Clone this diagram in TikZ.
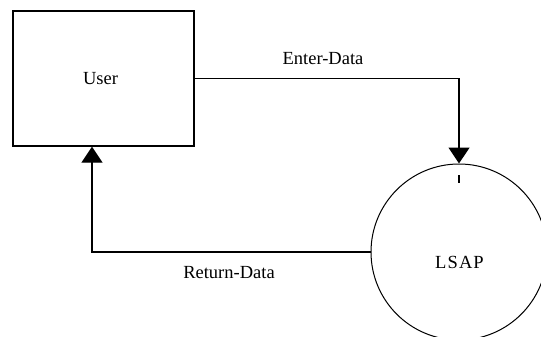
\documentclass[tikz,border=0pt]{standalone}
\usepackage{fontspec}
\setmainfont{Liberation Serif}
\usetikzlibrary{arrows.meta}
\begin{document}
\begin{tikzpicture}[x=1pt,y=1pt,
  every node/.style={font=\fontsize{18.5}{20}\selectfont},
  entity/.style={draw,line width=1.4pt,minimum width=181pt,minimum height=135pt,inner sep=0pt},
  proc/.style={draw,circle,line width=1pt,minimum size=176pt,inner sep=0pt},
  flow/.style={line width=1.4pt,-{Triangle[width=21pt,length=16pt]}},
  lbl/.style={inner sep=0pt}]
\useasboundingbox (0,0) rectangle (541,-337);
\node[entity] (User) at (103.5,-78.5) {};
\node[lbl] (usertext) at (100.5,-79) {User};
\node[proc] (LSAP) at (459,-252) {};
\node[lbl] (lsaptext) at (459.5,-262) {\addfontfeature{LetterSpace=6}LSAP};
\draw[flow] (User.east) -| (LSAP.north);
\draw[flow] (LSAP.west) -| ([xshift=-11.5pt]User.south);
\node[lbl] (enter) at (323,-59) {Enter-Data};
\node[lbl] (ret) at (229,-273) {Return-Data};
\coordinate (tickA) at (459,-175);
\coordinate (tickB) at (459,-183);
\draw[line width=2pt] (tickA) -- (tickB);
\end{tikzpicture}
\end{document}
